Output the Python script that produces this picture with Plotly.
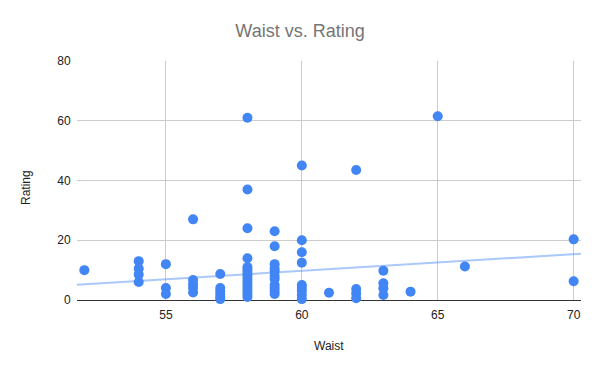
import plotly.graph_objects as go

# Data
waist = ([52] + [54]*4 + [55]*3 + [56]*5 + [57]*6 + [58]*15 + [59]*11 + [60]*9
         + [61] + [62]*4 + [63]*4 + [64] + [65] + [66] + [70]*2)
rating = ([10]
          + [13, 10.5, 8.5, 6]
          + [12, 4, 2]
          + [27, 6.7, 5.3, 4, 2.5]
          + [8.7, 4, 3, 2, 1, 0.3]
          + [61, 37, 24, 14, 11, 10, 9, 8, 7, 6, 5, 4, 3, 2, 1]
          + [23, 18, 12, 10.5, 9.5, 8, 7, 5, 4, 3, 2]
          + [45, 20, 16, 12.5, 5, 4, 3, 1.7, 0.3]
          + [2.4]
          + [43.5, 3.7, 2.2, 0.6]
          + [9.8, 5.6, 3.9, 1.7]
          + [2.8]
          + [61.5]
          + [11.2]
          + [20.3, 6.3])

# Linear trendline (ends of the x range)
trend_waist = [51.73, 70.27]
trend_rating = [5.1, 15.5]

x_ticks = [55, 60, 65, 70]
y_ticks = [0, 20, 40, 60, 80]
x_range = [51.73, 70.27]
y_range = [0, 80]

W, H = 600, 371
ML, MR, MT, MB = 77, 19, 61, 71

fig = go.Figure()
fig.add_trace(go.Scatter(x=trend_waist, y=trend_rating, mode="lines",
                         line=dict(color="rgba(66,133,244,0.45)", width=2),
                         hoverinfo="skip", showlegend=False))
fig.add_trace(go.Scatter(x=waist, y=rating, mode="markers",
                         marker=dict(color="#4285F4", size=10),
                         showlegend=False, cliponaxis=False))

fig.update_layout(
    width=W, height=H,
    margin=dict(l=ML, r=MR, t=MT, b=MB),
    paper_bgcolor="white", plot_bgcolor="white",
    font=dict(family="Arial, Liberation Sans, sans-serif", size=12, color="#222222"),
    title=dict(text="Waist vs. Rating", x=0.5, xanchor="center",
               y=1 - 30.5 / H, yanchor="middle",
               font=dict(size=18, color="#757575")),
    annotations=[
        dict(text="Waist", xref="paper", yref="paper",
             x=0.5, y=-(345.5 - (H - MB)) / (H - MT - MB),
             xanchor="center", yanchor="middle", showarrow=False,
             font=dict(size=12, color="#222222")),
        dict(text="Rating", xref="paper", yref="paper", textangle=-90,
             x=-(ML - 26) / (W - ML - MR), y=(H - MB - 188) / (H - MT - MB),
             xanchor="center", yanchor="middle", showarrow=False,
             font=dict(size=12, color="#222222")),
    ],
)
fig.update_xaxes(range=x_range, tickvals=x_ticks, showgrid=True, gridcolor="#cccccc",
                 zeroline=False, showline=False, automargin=False,
                 ticks="outside", ticklen=4, tickcolor="rgba(0,0,0,0)",
                 tickfont=dict(size=12, color="#222222"))
fig.update_yaxes(range=y_range, tickvals=y_ticks, showgrid=True, gridcolor="#cccccc",
                 zeroline=True, zerolinecolor="#333333", zerolinewidth=1.3,
                 showline=False, automargin=False,
                 ticks="outside", ticklen=3, tickcolor="rgba(0,0,0,0)",
                 tickfont=dict(size=12, color="#222222"))

fig.write_html("out.html", config={"displayModeBar": False},
               post_script="document.body.style.margin='0px';document.body.style.overflow='hidden';")
